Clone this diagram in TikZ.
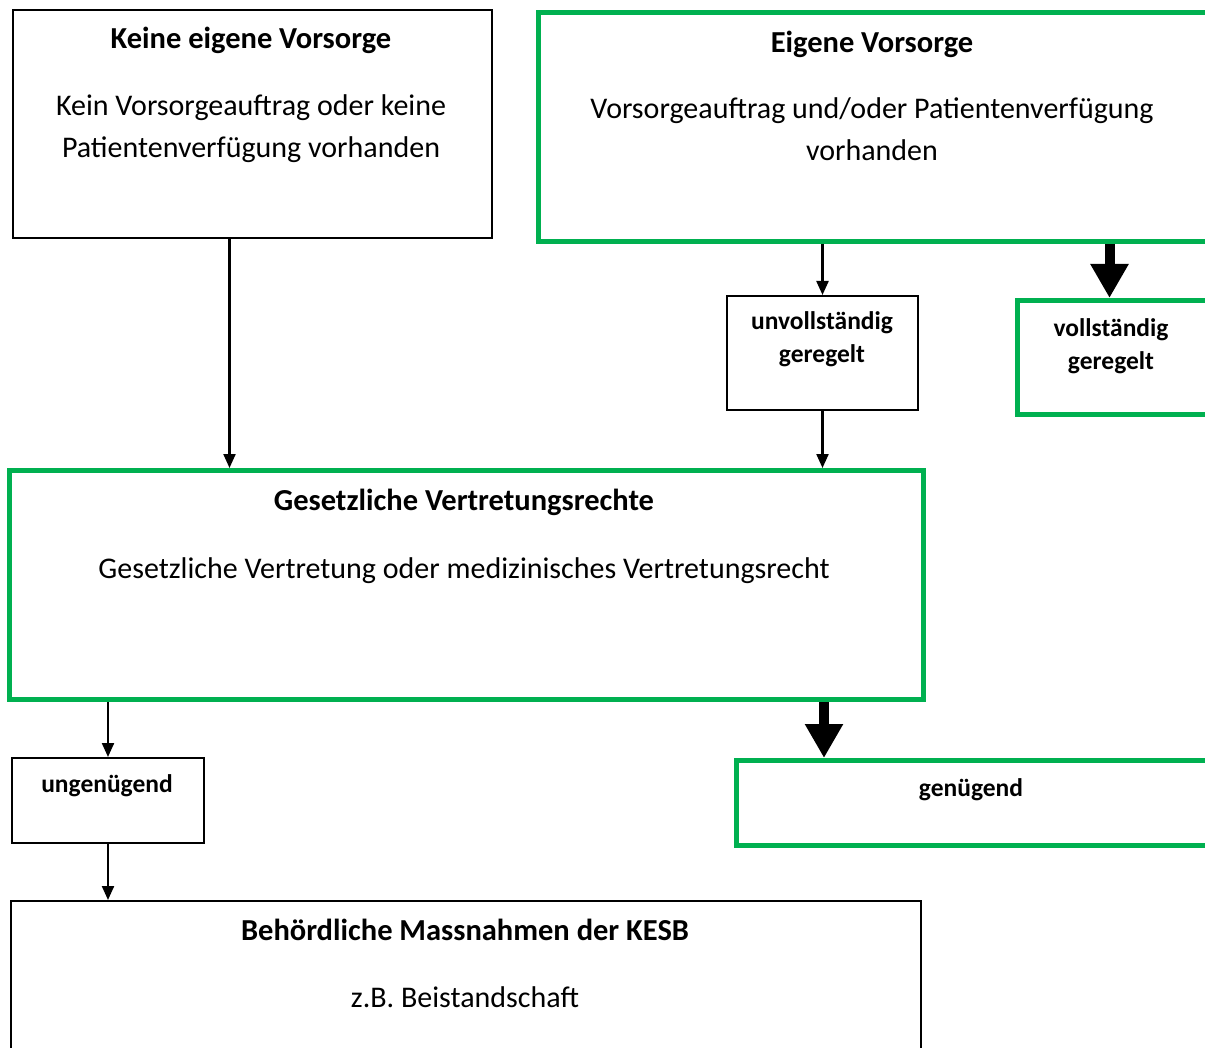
\documentclass[tikz,border=0pt]{standalone}
\usepackage{fontspec}
\setmainfont{Carlito}
\usetikzlibrary{arrows.meta,positioning}
\definecolor{vgreen}{HTML}{00B050}

\tikzset{
  plainbox/.style={draw=black, line width=2pt, anchor=north west, inner sep=0pt},
  greenbox/.style={draw=vgreen, line width=5pt, anchor=north west, inner sep=0pt},
  headtext/.style={anchor=base, inner sep=0pt, font=\fontsize{30.5}{30.5}\selectfont\bfseries},
  bodytext/.style={anchor=base, inner sep=0pt, align=center, font=\fontsize{30}{42}\selectfont},
  smalltext/.style={anchor=base, inner sep=0pt, align=center, font=\fontsize{25.5}{33}\selectfont\bfseries},
  thinarrow/.style={line width=2.2pt, -{Triangle[width=12pt,length=14pt]}},
  fatarrow/.style={line width=10pt, -{Triangle[width=36pt,length=34pt]}}
}

\begin{document}
\begin{tikzpicture}[x=1pt, y=-1pt]
  \useasboundingbox (0,0) rectangle (1205,1048);
  \clip (0,0) rectangle (1205,1048);

  % Top row
  \node[plainbox, minimum width=479pt, minimum height=228pt] (keine) at (12,9) {};
  \node[headtext] (keineT) at (251,49) {Keine eigene Vorsorge};
  \node[bodytext] (keineD) at (251,158) {Kein Vorsorgeauftrag oder keine\\Patientenverfügung vorhanden};

  \node[greenbox, minimum width=690pt, minimum height=229pt] (eigene) at (536,10) {};
  \node[headtext] (eigeneT) at (872,53) {Eigene Vorsorge};
  \node[bodytext] (eigeneD) at (872,161) {Vorsorgeauftrag und/oder Patientenverfügung\\vorhanden};

  % Second row
  \node[plainbox, minimum width=191pt, minimum height=114pt] (unvoll) at (726,295) {};
  \node[smalltext] (unvollT) at (822,363) {unvollständig\\geregelt};

  \node[greenbox, minimum width=210pt, minimum height=114pt] (voll) at (1015,298) {};
  \node[smalltext] (vollT) at (1111,370) {vollständig\\geregelt};

  % Middle
  \node[greenbox, minimum width=914pt, minimum height=229pt] (gesetz) at (7,468) {};
  \node[headtext] (gesetzT) at (464,510) {Gesetzliche Vertretungsrechte};
  \node[bodytext] (gesetzD) at (464,578) {Gesetzliche Vertretung oder medizinisches Vertretungsrecht};

  % Third row
  \node[plainbox, minimum width=192pt, minimum height=85pt] (ungen) at (11,757) {};
  \node[smalltext] (ungenT) at (107,792) {ungenügend};

  \node[greenbox, minimum width=490pt, minimum height=85pt] (genug) at (734,758) {};
  \node[smalltext] (genugT) at (971,796) {genügend};

  % Bottom
  \node[plainbox, minimum width=910pt, minimum height=170pt] (kesb) at (10,900) {};
  \node[headtext] (kesbT) at (465,940) {Behördliche Massnahmen der KESB};
  \node[bodytext] (kesbD) at (465,1007) {z.B. Beistandschaft};

  % Connectors
  \draw[thinarrow] ([xshift=-23pt]keine.south) -- ([xshift=-23pt]keine.south |- gesetz.north);
  \draw[thinarrow] (unvoll.north |- eigene.south) -- (unvoll.north);
  \draw[thinarrow] (unvoll.south) -- (unvoll.south |- gesetz.north);
  \draw[fatarrow] ([xshift=-13pt]voll.north |- eigene.south) -- ([xshift=-13pt]voll.north);
  \draw[thinarrow] (ungen.north |- gesetz.south) -- (ungen.north);
  \draw[fatarrow] ([xshift=90pt]genug.north west |- gesetz.south) -- ([xshift=90pt]genug.north west);
  \draw[thinarrow] (ungen.south) -- (ungen.south |- kesb.north);
\end{tikzpicture}
\end{document}
